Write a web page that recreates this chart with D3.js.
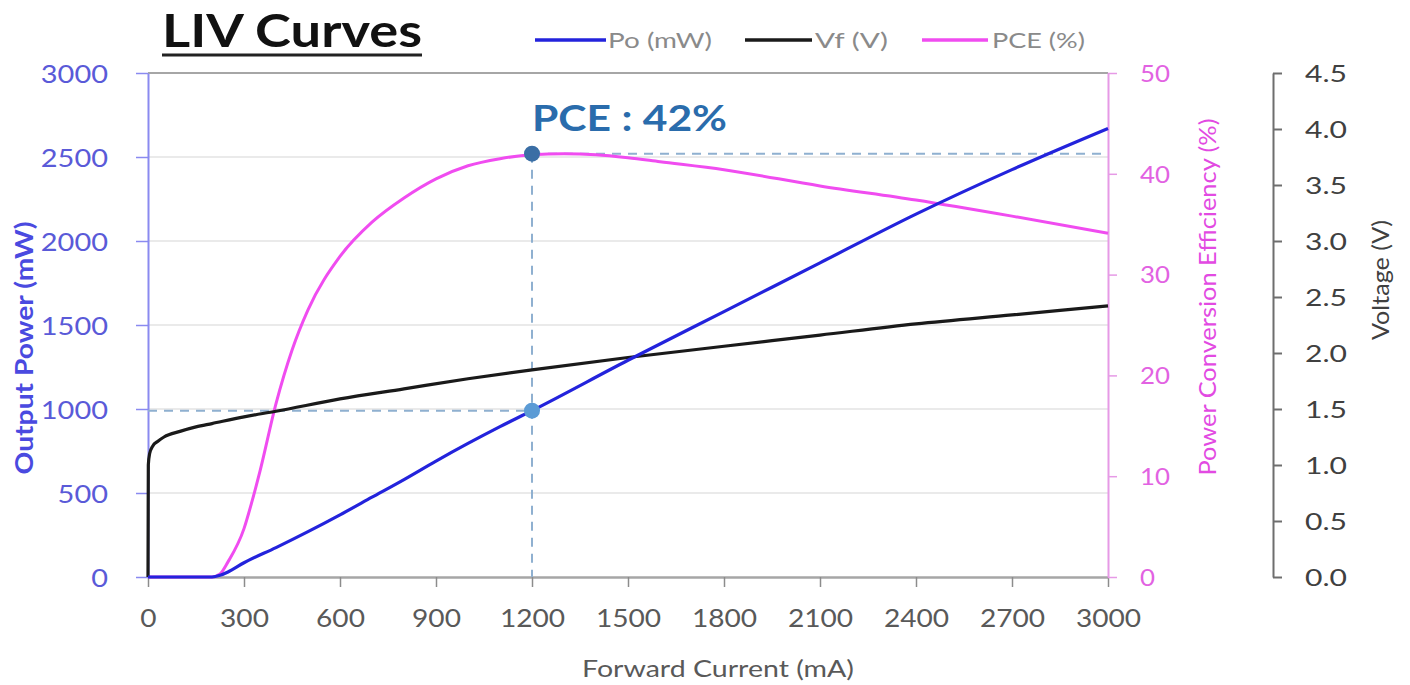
<!DOCTYPE html>
<html>
<head>
<meta charset="utf-8">
<script src="https://cdn.jsdelivr.net/npm/d3@7"></script>
<style>
  html, body { margin: 0; padding: 0; background: #ffffff; }
  svg { display: block; }
  text { font-family: Lato, "Open Sans", sans-serif; }
</style>
</head>
<body>
<svg id="chart" width="1410" height="685"></svg>
<script>
// ---------------- DATA ----------------
const poCurrent = [0,100,200,225,250,300,400,500,600,700,800,900,1000,1100,1200,1500,1800,2100,2400,2700,3000];
const poValues  = [0,0,0,10,30,85,175,270,370,475,580,690,795,895,990,1290,1580,1870,2160,2425,2670];

const vfCurrent = [0,1,5,15,30,50,100,150,200,300,400,600,800,1000,1200,1500,1800,2100,2400,2700,3000];
const vfValues  = [0,1.0,1.1,1.17,1.21,1.25,1.3,1.34,1.37,1.43,1.48,1.59,1.68,1.77,1.85,1.96,2.06,2.16,2.26,2.34,2.42];

const pceCurrent = [0,200,225,250,300,325,350,400,450,500,600,700,800,900,1000,1100,1200,1300,1400,1500,1600,1800,2100,2400,2700,3000];
const pceValues  = [0,0,0.3,1.5,4.8,7.5,10.5,17.2,22.5,26.5,31.8,35.2,37.6,39.5,40.8,41.5,41.9,42.0,41.9,41.6,41.2,40.4,38.8,37.4,35.8,34.1];

const xTicks   = [0,300,600,900,1200,1500,1800,2100,2400,2700,3000];
const poTicks  = [0,500,1000,1500,2000,2500,3000];
const pceTicks = [0,10,20,30,40,50];
const vTicks   = [0,0.5,1.0,1.5,2.0,2.5,3.0,3.5,4.0,4.5];

const refCurrent = 1200;
const refPce = 42;
const refPo = 990;

const seriesNames = ["Po (mW)", "Vf (V)", "PCE (%)"];
const titleText = "LIV Curves";
const annotText = "PCE : 42%";

// ---------------- LAYOUT ----------------
const L = 148, R = 1108, T = 73, B = 577, VX = 1273;
const svg = d3.select("#chart");
svg.append("rect").attr("width",1410).attr("height",685).attr("fill","#ffffff");

const x  = d3.scaleLinear().domain([0,3000]).range([L,R]);
const yPo  = d3.scaleLinear().domain([0,3000]).range([B,T]);
const yPce = d3.scaleLinear().domain([0,50]).range([B,T]);
const yV   = d3.scaleLinear().domain([0,4.5]).range([B,T]);

function fit(sel, perChar, dotW) {
  sel.each(function() {
    const s = this.textContent;
    let w = 0;
    for (const c of s) w += (c === "." ? dotW : perChar);
    d3.select(this).attr("textLength", w).attr("lengthAdjust","spacingAndGlyphs");
  });
}

// gridlines
svg.append("g").selectAll("line").data(poTicks.filter(d => d > 0 && d < 3000)).join("line")
  .attr("x1", L).attr("x2", R).attr("y1", d => yPo(d)).attr("y2", d => yPo(d))
  .attr("stroke", "#e3e3e3").attr("stroke-width", 1.5);
// top border
svg.append("line").attr("x1", L).attr("x2", R).attr("y1", yPo(3000)).attr("y2", yPo(3000))
  .attr("stroke", "#a6a6a6").attr("stroke-width", 2);

// bottom axis
const gx = svg.append("g").attr("transform", `translate(0,${B})`)
  .call(d3.axisBottom(x).tickValues(xTicks).tickSize(10).tickSizeOuter(0).tickFormat(d3.format("d")));
gx.select(".domain").attr("stroke", "#a6a6a6").attr("stroke-width", 2.5);
gx.selectAll(".tick line").attr("stroke", "#8c8c8c").attr("stroke-width", 1.5);
gx.selectAll("text").attr("y", 50).attr("dy", 0).attr("fill", "#595959")
  .style("font-size", "25px").call(fit, 16.3, 9);

// left axis (Po)
const gl = svg.append("g").attr("transform", `translate(${L},0)`)
  .call(d3.axisLeft(yPo).tickValues(poTicks).tickSize(12).tickPadding(28).tickSizeOuter(0).tickFormat(d3.format("d")));
gl.select(".domain").attr("stroke", "#8a8af0").attr("stroke-width", 2);
gl.selectAll(".tick line").attr("stroke", "#8a8af0").attr("stroke-width", 1.5);
gl.selectAll("text").attr("fill", "#5a5ad8").attr("dy", "0.36em")
  .style("font-size", "25px").call(fit, 16.8, 9);

// right axis (PCE)
const gp = svg.append("g").attr("transform", `translate(${R},0)`)
  .call(d3.axisRight(yPce).tickValues(pceTicks).tickSize(9).tickPadding(23).tickSizeOuter(0).tickFormat(d3.format("d")));
gp.select(".domain").attr("stroke", "#e69ae6").attr("stroke-width", 2);
gp.selectAll(".tick line").attr("stroke", "#e69ae6").attr("stroke-width", 1.5);
gp.selectAll("text").attr("fill", "#e262e2").attr("dy", "0.36em")
  .style("font-size", "23px").call(fit, 15, 9);

// voltage axis
const gv = svg.append("g").attr("transform", `translate(${VX},0)`)
  .call(d3.axisRight(yV).tickValues(vTicks).tickSize(9).tickPadding(23).tickSizeOuter(0).tickFormat(d3.format(".1f")));
gv.select(".domain").attr("stroke", "#6e6e6e").attr("stroke-width", 2);
gv.selectAll(".tick line").attr("stroke", "#6e6e6e").attr("stroke-width", 2);
gv.selectAll("text").attr("fill", "#404040").attr("dy", "0.36em")
  .style("font-size", "23px").call(fit, 16, 10);

// reference dashed lines
const dashCol = "#8fb0d0";
svg.append("line").attr("x1", x(refCurrent)).attr("x2", x(3000)).attr("y1", yPce(refPce)).attr("y2", yPce(refPce))
  .attr("stroke", dashCol).attr("stroke-width", 2).attr("stroke-dasharray", "9,7");
svg.append("line").attr("x1", x(refCurrent)).attr("x2", x(refCurrent)).attr("y1", yPce(refPce)).attr("y2", yPce(0))
  .attr("stroke", dashCol).attr("stroke-width", 2).attr("stroke-dasharray", "9,7");
svg.append("line").attr("x1", x(0)).attr("x2", x(refCurrent)).attr("y1", yPo(refPo)).attr("y2", yPo(refPo))
  .attr("stroke", dashCol).attr("stroke-width", 2).attr("stroke-dasharray", "9,7");

// lines
const mk = (xs, ys, yScale) => xs.map((c, i) => [x(c), yScale(ys[i])]);
const lineGen = d3.line().curve(d3.curveMonotoneX);

svg.append("path").attr("d", lineGen(mk(pceCurrent, pceValues, yPce)))
  .attr("fill", "none").attr("stroke", "#f04cf0").attr("stroke-width", 3);
svg.append("path").attr("d", lineGen(mk(vfCurrent, vfValues, yV)))
  .attr("fill", "none").attr("stroke", "#1a1a1a").attr("stroke-width", 3.2);
svg.append("path").attr("d", lineGen(mk(poCurrent, poValues, yPo)))
  .attr("fill", "none").attr("stroke", "#2323dc").attr("stroke-width", 3.2);

// reference dots
svg.append("circle").attr("cx", x(refCurrent)).attr("cy", yPce(refPce)).attr("r", 8).attr("fill", "#3a6ea5");
svg.append("circle").attr("cx", x(refCurrent)).attr("cy", yPo(refPo)).attr("r", 8).attr("fill", "#5b9bd5");

// annotation
svg.append("text").attr("x", 532).attr("y", 131).text(annotText)
  .attr("fill", "#2a6cac").style("font-size", "37px").style("font-weight", "bold")
  .attr("textLength", 195).attr("lengthAdjust", "spacingAndGlyphs");

// title
svg.append("text").attr("x", 162).attr("y", 47).text(titleText)
  .attr("fill", "#111111").style("font-size", "46px").style("font-weight", "bold")
  .attr("textLength", 260).attr("lengthAdjust", "spacingAndGlyphs");
svg.append("line").attr("x1", 162).attr("x2", 422).attr("y1", 55).attr("y2", 55)
  .attr("stroke", "#222222").attr("stroke-width", 3);

// legend
const legend = [
  {name: seriesNames[0], color: "#2323dc", x1: 535, x2: 606, tx: 608, tw: 104},
  {name: seriesNames[1], color: "#1a1a1a", x1: 745, x2: 812, tx: 815, tw: 73},
  {name: seriesNames[2], color: "#f04cf0", x1: 922, x2: 988, tx: 992, tw: 93}
];
const lg = svg.append("g");
legend.forEach(d => {
  lg.append("line").attr("x1", d.x1).attr("x2", d.x2).attr("y1", 40).attr("y2", 40)
    .attr("stroke", d.color).attr("stroke-width", 3.5);
  lg.append("text").attr("x", d.tx).attr("y", 48).text(d.name)
    .attr("fill", "#8a8a8a").style("font-size", "22px")
    .attr("textLength", d.tw).attr("lengthAdjust", "spacingAndGlyphs");
});

// axis titles
svg.append("text").attr("transform", "translate(33,348) rotate(-90)").attr("text-anchor", "middle")
  .text("Output Power (mW)").attr("fill", "#4a4ae0").style("font-size", "24px").style("font-weight", "bold")
  .attr("textLength", 253).attr("lengthAdjust", "spacingAndGlyphs");
svg.append("text").attr("transform", "translate(1216,297) rotate(-90)").attr("text-anchor", "middle")
  .text("Power Conversion Efficiency (%)").attr("fill", "#e24ae2").style("font-size", "24px")
  .attr("textLength", 357).attr("lengthAdjust", "spacingAndGlyphs");
svg.append("text").attr("transform", "translate(1389,280) rotate(-90)").attr("text-anchor", "middle")
  .text("Voltage (V)").attr("fill", "#404040").style("font-size", "24px")
  .attr("textLength", 120).attr("lengthAdjust", "spacingAndGlyphs");
svg.append("text").attr("x", 718).attr("y", 677).attr("text-anchor", "middle")
  .text("Forward Current (mA)").attr("fill", "#595959").style("font-size", "24px")
  .attr("textLength", 272).attr("lengthAdjust", "spacingAndGlyphs");
</script>
</body>
</html>
